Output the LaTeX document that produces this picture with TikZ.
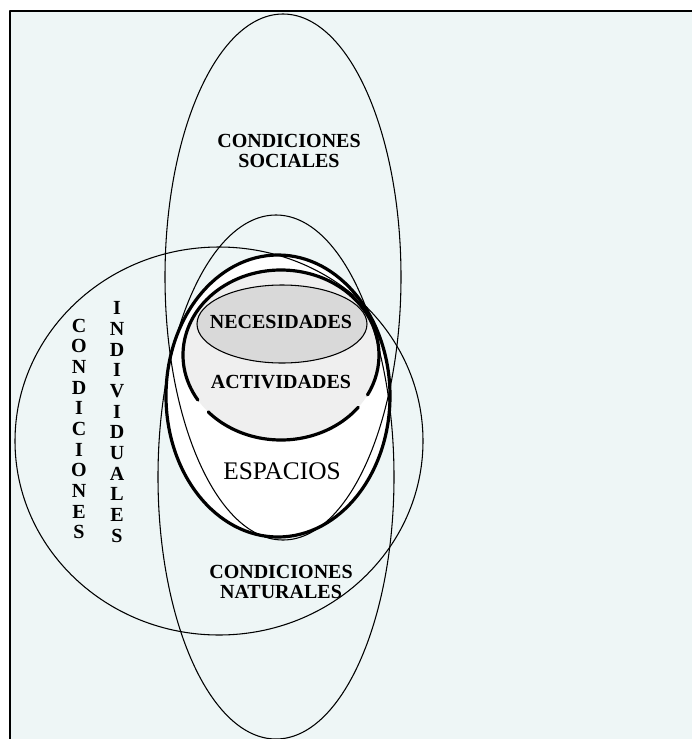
\documentclass[tikz,border=0pt]{standalone}
\usepackage{fontspec}
\setmainfont{Liberation Serif}
\usetikzlibrary{calc}
\definecolor{paper}{HTML}{EEF6F6}
\definecolor{actfill}{HTML}{EFEFEF}
\definecolor{necfill}{HTML}{D9D9D9}
\begin{document}
\begin{tikzpicture}[x=0.75pt,y=-0.75pt,line cap=round,line join=round,
  thinring/.style={line width=0.8pt},
  thickring/.style={line width=2.4pt},
  caption/.style={font=\fontsize{15}{15.5}\selectfont\bfseries,align=center,inner sep=0pt}]
  % Frame on a pale ground, open to the right and below.
  \useasboundingbox (0,0) rectangle (692,739);
  \fill[white] (0,0) rectangle (692,739);
  \fill[paper] (10,11) rectangle (692,739);
  \draw[line width=1.5pt] (10,739) -- (10,11) -- (692,11);

  \coordinate (Csoc) at (283,277);
  \coordinate (Cnat) at (276,477);
  \coordinate (Cind) at (219,441);
  \coordinate (Cesp) at (278,396);
  \coordinate (Cact) at (281,355);
  \coordinate (Cnec) at (282,324);

  % fills of the three inner regions
  \fill[white] (Cesp) ellipse [x radius=112, y radius=141];
  \fill[actfill] (Cact) ellipse [x radius=98, y radius=85];
  \fill[necfill] (Cnec) ellipse [x radius=85, y radius=39];

  % the three conditions
  \draw[thinring] (Csoc) ellipse [x radius=118, y radius=263];
  \draw[thinring] (Cnat) ellipse [x radius=118, y radius=262];
  \draw[thinring] (Cind) ellipse [x radius=204, y radius=194];

  \draw[thinring] (Cnec) ellipse [x radius=85, y radius=39];
  \draw[thickring] (Cesp) ellipse [x radius=112, y radius=141];
  \draw[thickring] ($(Cact)+(148:98 and 85)$) arc [start angle=148, end angle=388, x radius=98, y radius=85];
  \draw[thickring] ($(Cact)+(38:98 and 85)$) arc [start angle=38, end angle=138, x radius=98, y radius=85];

  \node[caption] (social) at (289,151) {CONDICIONES\\SOCIALES};
  \node[caption] (natural) at (281,582) {CONDICIONES\\NATURALES};
  \node[caption] (necesidades) at (281,322) {NECESIDADES};
  \node[caption] (actividades) at (281,382) {ACTIVIDADES};
  \node[font=\fontsize{19}{19}\selectfont,inner sep=0pt] (espacios) at (282,471) {ESPACIOS};
  \node[caption] (condiciones) at (79,429) {C\\O\\N\\D\\I\\C\\I\\O\\N\\E\\S};
  \node[caption] (individuales) at (117,422) {I\\N\\D\\I\\V\\I\\D\\U\\A\\L\\E\\S};
\end{tikzpicture}
\end{document}
